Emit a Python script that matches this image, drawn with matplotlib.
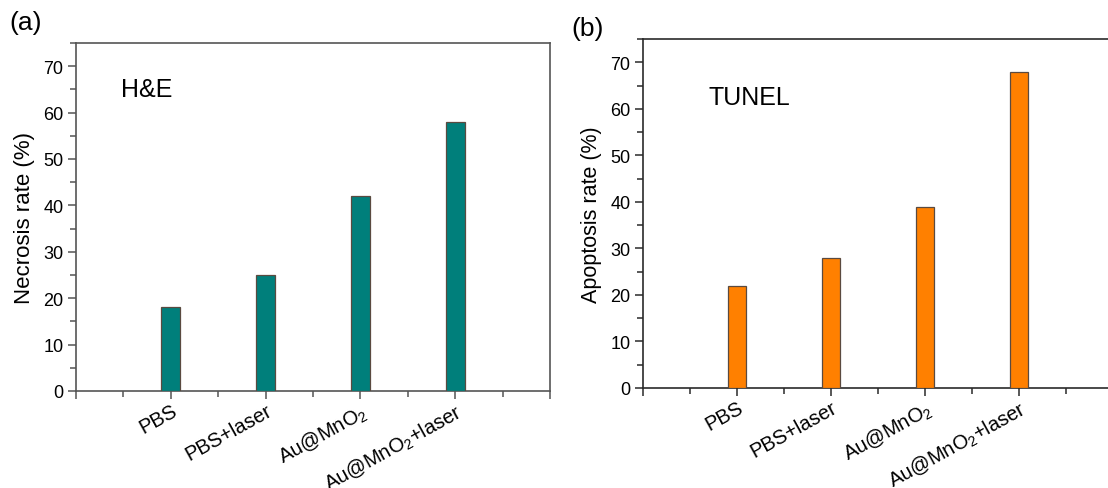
import matplotlib
matplotlib.use("Agg")
import matplotlib.pyplot as plt
from matplotlib.ticker import MultipleLocator, FixedLocator
from matplotlib.transforms import ScaledTranslation

plt.rcParams['font.family'] = ['Liberation Sans', 'DejaVu Sans']
plt.rcParams['mathtext.fontset'] = 'custom'
plt.rcParams['mathtext.rm'] = 'Liberation Sans'
plt.rcParams['mathtext.it'] = 'Liberation Sans:italic'
plt.rcParams['mathtext.bf'] = 'Liberation Sans:bold'

groups = ["PBS", "PBS+laser", "Au@MnO$_2$", "Au@MnO$_2$+laser"]
necrosis = [18, 25, 42, 58]
apoptosis = [22, 28, 39, 68]

W, H = 1108, 489
fig = plt.figure(figsize=(W / 100, H / 100), dpi=100)

ax_a = fig.add_axes([76 / W, 1 - 392 / H, 474 / W, 348 / H])
ax_b = fig.add_axes([643 / W, 1 - 389 / H, 470 / W, 349 / H])

panels = [
    (ax_a, necrosis, "#007f7b", "Necrosis rate (%)", "H&E", (0.47, 63.5), 16, "#555555"),
    (ax_b, apoptosis, "#ff8000", "Apoptosis rate (%)", "TUNEL", (0.70, 61.0), 15.5, "#2a2a2a"),
]

# nudge rotated category labels right and up a little
label_shift = ScaledTranslation(3 / 100, 5 / 100, fig.dpi_scale_trans)

for ax, vals, col, ylab, tag, tag_xy, ylab_size, spine_col in panels:
    pos = list(range(1, len(groups) + 1))
    ax.bar(pos, vals, width=0.2, color=col, edgecolor="#5a4a40", linewidth=0.9, zorder=3)
    ax.set_xlim(0, 5)
    ax.set_ylim(0, 75)
    ax.set_xticks([0, 1, 2, 3, 4, 5])
    ax.xaxis.set_minor_locator(FixedLocator([0.5, 1.5, 2.5, 3.5, 4.5]))
    ax.set_xticklabels([""] + groups + [""], rotation=29, ha="right",
                       rotation_mode="anchor", fontsize=14.5)
    for lbl in ax.get_xticklabels():
        lbl.set_transform(lbl.get_transform() + label_shift)
    ax.set_yticks(range(0, 71, 10))
    ax.yaxis.set_minor_locator(MultipleLocator(5))
    ax.tick_params(axis="y", which="major", direction="out", length=6, width=1.1,
                   labelsize=13, color=spine_col, pad=3)
    ax.tick_params(axis="y", which="minor", direction="out", length=4, width=1.1, color=spine_col)
    ax.tick_params(axis="x", which="major", direction="out", length=6, width=1.1,
                   color=spine_col, pad=1)
    ax.tick_params(axis="x", which="minor", direction="out", length=4, width=1.1, color=spine_col)
    for s in ax.spines.values():
        s.set_color(spine_col)
        s.set_linewidth(1.2)
    ax.set_ylabel(ylab, fontsize=ylab_size, labelpad=6)
    ax.text(tag_xy[0], tag_xy[1], tag, fontsize=18, ha="left", va="baseline")

fig.text(26 / W, 1 - 23 / H, "(a)", fontsize=19, ha="center", va="center")
fig.text(588 / W, 1 - 29 / H, "(b)", fontsize=19, ha="center", va="center")

fig.savefig("out.png", dpi=100)
